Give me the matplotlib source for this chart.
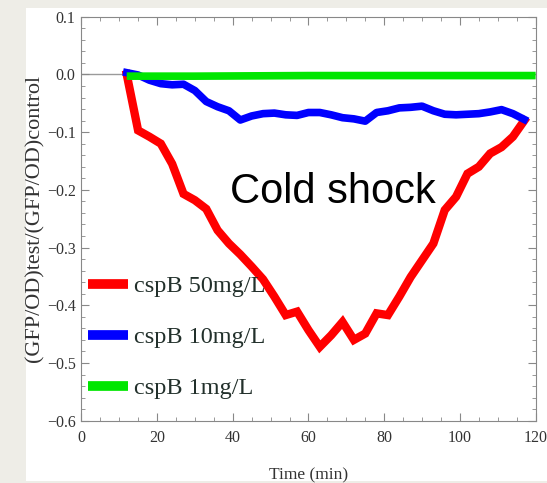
import matplotlib
matplotlib.use("Agg")
import matplotlib.pyplot as plt
from matplotlib.patches import Rectangle
from matplotlib.ticker import MultipleLocator

# time points (min)
time = [12, 15, 18, 21, 24, 27, 30, 33, 36, 39, 42, 45, 48, 51, 54, 57, 60, 63,
        66, 69, 72, 75, 78, 81, 84, 87, 90, 93, 96, 99, 102, 105, 108, 111, 114, 117]

cspb_50 = [0.0, -0.097, -0.108, -0.12, -0.155, -0.207, -0.218, -0.233, -0.27, -0.293,
           -0.312, -0.333, -0.355, -0.385, -0.417, -0.411, -0.443, -0.472, -0.452, -0.429,
           -0.46, -0.449, -0.414, -0.417, -0.385, -0.351, -0.322, -0.293, -0.235, -0.212,
           -0.172, -0.16, -0.137, -0.126, -0.108, -0.08]

cspb_10 = [0.003, -0.001, -0.01, -0.016, -0.018, -0.017, -0.028, -0.047, -0.056, -0.063,
           -0.079, -0.072, -0.068, -0.067, -0.07, -0.071, -0.066, -0.066, -0.07, -0.075,
           -0.077, -0.081, -0.066, -0.063, -0.058, -0.057, -0.055, -0.063, -0.069, -0.07,
           -0.069, -0.068, -0.065, -0.061, -0.068, -0.078]

green_time = [12, 30, 60, 90, 120]
cspb_1 = [-0.003, -0.003, -0.002, -0.002, -0.002]

labels = ['cspB 50mg/L', 'cspB 10mg/L', 'cspB 1mg/L']
colors = ['#ff0000', '#0000ff', '#00e600']

serif = ['Liberation Serif', 'DejaVu Serif']
plt.rcParams['font.family'] = serif

W, H = 547, 483
fig = plt.figure(figsize=(W / 100, H / 100), dpi=100)
fig.patch.set_facecolor('#eeede7')
# white slide panel behind the plot
fig.patches.append(Rectangle((26 / W, 1 - 481 / H), (W - 26) / W, (481 - 8) / H,
                             transform=fig.transFigure, facecolor='white',
                             edgecolor='none', zorder=-10))

ax = fig.add_axes([81.3 / W, 1 - 420.7 / H, (535.6 - 81.3) / W, (420.7 - 16.7) / H])
ax.set_facecolor('white')

ax.axhline(0, color='#9a9a9a', lw=1.0, zorder=1)
ax.plot(time, cspb_50, color=colors[0], lw=6, label=labels[0], zorder=3,
        solid_joinstyle='miter')
ax.plot(time, cspb_10, color=colors[1], lw=5.5, label=labels[1], zorder=3)
ax.plot(green_time, cspb_1, color=colors[2], lw=5.5, label=labels[2], zorder=4,
        solid_capstyle='butt')

ax.set_xlim(0, 120)
ax.set_ylim(-0.6, 0.1)
ax.xaxis.set_major_locator(MultipleLocator(20))
ax.xaxis.set_minor_locator(MultipleLocator(5))
ax.yaxis.set_major_locator(MultipleLocator(0.1))
ax.yaxis.set_minor_locator(MultipleLocator(0.02))
ax.set_yticklabels([f'{v:.1f}'.replace('-', '\u2212') for v in ax.get_yticks()])
ax.set_xticklabels([f'{v:.0f}' for v in ax.get_xticks()])

ax.tick_params(which='both', direction='in', top=True, right=True, color='#888888')
ax.tick_params(which='major', length=6, width=0.8, labelsize=11.5, labelcolor='#333333',
               labelfontfamily='Liberation Serif')
ax.tick_params(axis='x', which='major', pad=7)
ax.tick_params(axis='y', which='major', pad=4)
ax.tick_params(which='minor', length=3, width=0.6)
for s in ax.spines.values():
    s.set_color('#888888')
    s.set_linewidth(0.8)

ax.set_xlabel('Time (min)', fontsize=12.5, color='#333333', labelpad=15)
ax.set_ylabel('(GFP/OD)test/(GFP/OD)control', fontsize=16, color='#333333', labelpad=2)

ax.text(39.3, -0.223, 'Cold shock', family=['Liberation Sans', 'DejaVu Sans'],
        fontsize=30, color='black', ha='left', va='baseline', zorder=5)

leg = ax.legend(loc='upper left', bbox_to_anchor=(88 / W, 1 - 275 / H),
                bbox_transform=fig.transFigure, frameon=False, borderpad=0,
                borderaxespad=0, handlelength=1.65, handletextpad=0.25,
                labelspacing=1.2, prop={'size': 17.5})
for t in leg.get_texts():
    t.set_color('#22302b')
for h in leg.get_lines():
    h.set_linewidth(7)
    h.set_solid_capstyle('butt')

fig.savefig('out.png', dpi=100, facecolor=fig.get_facecolor())
